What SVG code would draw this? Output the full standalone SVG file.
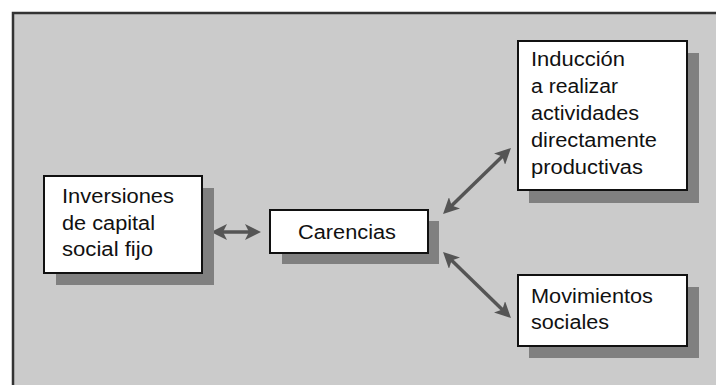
<svg xmlns="http://www.w3.org/2000/svg" width="716" height="385" viewBox="0 0 716 385">
<style>
.frame{fill:#cbcbcb;stroke:#333;stroke-width:2.5}
.shadow{fill:#808080}
.box{fill:#fff;stroke:#111;stroke-width:2}
.t{font-family:"Liberation Sans",Arial,sans-serif;font-size:20px;fill:#111}
.conn{stroke:#555;stroke-width:3.5;fill:none;marker-start:url(#ah);marker-end:url(#ah)}
</style>
<defs>
<marker id="ah" markerUnits="userSpaceOnUse" viewBox="0 0 16 16" markerWidth="16" markerHeight="16" refX="7" refY="8" orient="auto-start-reverse">
<path d="M0,0 L16,8 L0,16 L4,8 Z" fill="#555"/>
</marker>
</defs>
<rect width="716" height="385" fill="#fff"/>
<rect class="frame" x="13" y="13" width="720" height="400"/>
<g id="connectors">
<line class="conn" x1="220" y1="232" x2="252" y2="232"/>
<line class="conn" x1="449.5" y1="207.7" x2="504.5" y2="154.3"/>
<line class="conn" x1="449.5" y1="258.3" x2="504.5" y2="311.7"/>
</g>
<g id="inversiones">
<rect class="shadow" x="56" y="188" width="158" height="97"/>
<rect class="box" x="44" y="176" width="158" height="97"/>
<text class="t" x="62" y="203" textLength="112" lengthAdjust="spacingAndGlyphs">Inversiones</text>
<text class="t" x="62" y="230" textLength="93" lengthAdjust="spacingAndGlyphs">de capital</text>
<text class="t" x="62" y="256" textLength="91" lengthAdjust="spacingAndGlyphs">social fijo</text>
</g>
<g id="carencias">
<rect class="shadow" x="282" y="221" width="157" height="43"/>
<rect class="box" x="270" y="210" width="158" height="43"/>
<text class="t" x="298" y="239" textLength="98" lengthAdjust="spacingAndGlyphs">Carencias</text>
</g>
<g id="induccion">
<rect class="shadow" x="529" y="53" width="170" height="150"/>
<rect class="box" x="518" y="41" width="169" height="149"/>
<text class="t" x="531" y="66" textLength="94" lengthAdjust="spacingAndGlyphs">Inducción</text>
<text class="t" x="531" y="93" textLength="87" lengthAdjust="spacingAndGlyphs">a realizar</text>
<text class="t" x="531" y="120" textLength="108" lengthAdjust="spacingAndGlyphs">actividades</text>
<text class="t" x="531" y="147" textLength="126" lengthAdjust="spacingAndGlyphs">directamente</text>
<text class="t" x="531" y="174" textLength="112" lengthAdjust="spacingAndGlyphs">productivas</text>
</g>
<g id="movimientos">
<rect class="shadow" x="529" y="287" width="170" height="71"/>
<rect class="box" x="518" y="275" width="169" height="71"/>
<text class="t" x="531" y="303" textLength="122" lengthAdjust="spacingAndGlyphs">Movimientos</text>
<text class="t" x="531" y="329" textLength="78" lengthAdjust="spacingAndGlyphs">sociales</text>
</g>
</svg>
